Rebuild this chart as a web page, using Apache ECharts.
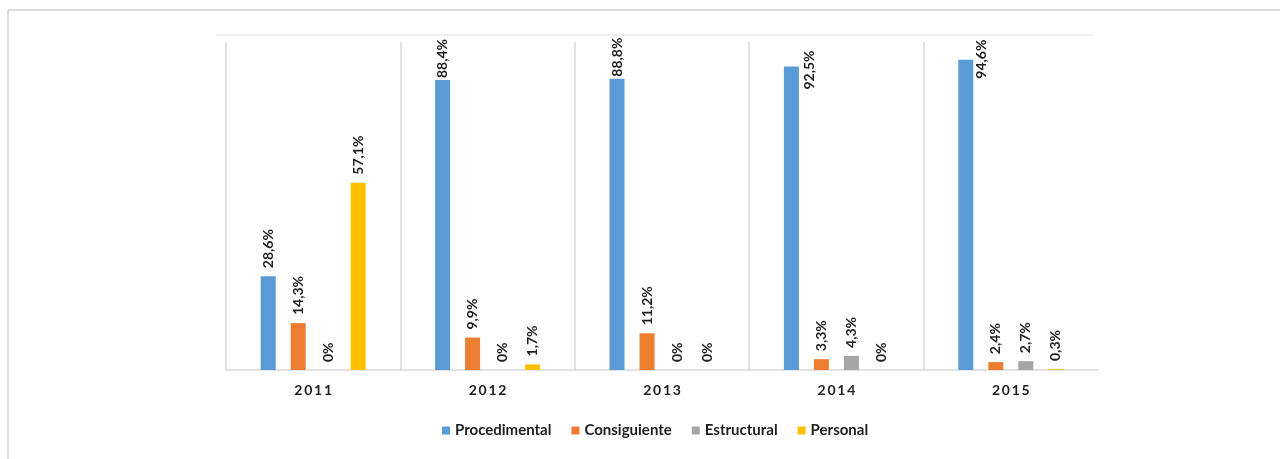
<!DOCTYPE html>
<html>
<head>
<meta charset="utf-8">
<script src="https://cdn.jsdelivr.net/npm/echarts@6/dist/echarts.min.js"></script>
<style>
    html, body {margin: 0; padding: 0; background: #fff;}
    #chart1 {width: 1280px; height: 459px;}
</style>
</head>
<body>
<div id="chart1"></div>
<script>
// data (percent)
var years = ['2011', '2012', '2013', '2014', '2015'];
var seriesNames = ['Procedimental', 'Consiguiente', 'Estructural', 'Personal'];
var procedimental = [28.6, 88.4, 88.8, 92.5, 94.6];
var consiguiente = [14.3, 9.9, 11.2, 3.3, 2.4];
var estructural = [0, 0, 0, 4.3, 2.7];
var personal = [57.1, 1.7, 0, 0, 0.3];
var colors = ['#5B9BD5', '#ED7D31', '#A5A5A5', '#FFC000'];

var FONT = 'Lato, "Open Sans", sans-serif';

function fmt(p) {
    return String(p.value).replace('.', ',') + '%';
}

// labels near the top get pushed down / aside like in the original
var blueLabelFix = {
    1: {distance: 2},
    2: {distance: 2},
    3: {position: [26, 23]},
    4: {position: [23, 19]}
};

function makeSeries(idx, values) {
    var data = values.map(function (v, i) {
        if (idx == 0 && blueLabelFix[i]) {
            return {value: v, label: blueLabelFix[i]};
        }
        return v;
    });
    return {
        name: seriesNames[idx],
        type: 'bar',
        barWidth: 15,
        barGap: '100%',
        itemStyle: {color: colors[idx]},
        label: {
            show: true,
            position: 'top',
            distance: 8,
            rotate: 90,
            align: 'left',
            verticalAlign: 'middle',
            formatter: fmt,
            fontFamily: FONT,
            fontWeight: 'bold',
            fontSize: 14,
            color: '#1e1e1e'
        },
        data: data
    };
}

var myChart = echarts.init(document.getElementById('chart1'));
var option = {
    animation: false,
    color: colors,
    grid: {left: 226, right: 182, top: 42, bottom: 89},
    legend: {
        data: seriesNames,
        left: 437,
        top: 418,
        itemWidth: 8,
        itemHeight: 8,
        itemGap: 20,
        icon: 'rect',
        textStyle: {fontFamily: FONT, fontWeight: 'bold', fontSize: 15, color: '#1e1e1e'}
    },
    xAxis: {
        type: 'category',
        data: years,
        axisLine: {lineStyle: {color: '#d9d9d9', width: 1.5}},
        axisTick: {show: false},
        splitLine: {show: true, showMaxLine: false, lineStyle: {color: '#d9d9d9', width: 1.5}},
        axisLabel: {
            margin: 13,
            fontFamily: FONT,
            fontWeight: 'bold',
            fontSize: 14,
            color: '#1e1e1e',
            formatter: function (v) { return v.split('').join('\u2009'); }
        }
    },
    yAxis: {
        type: 'value',
        min: 0,
        max: 100,
        show: false,
        splitLine: {show: false}
    },
    graphic: [
        {type: 'line', shape: {x1: 8, y1: 10, x2: 1280, y2: 10}, style: {stroke: '#d0d0d0', lineWidth: 1.5}, silent: true},
        {type: 'line', shape: {x1: 8, y1: 10, x2: 8, y2: 459}, style: {stroke: '#d0d0d0', lineWidth: 1.5}, silent: true},
        {type: 'line', shape: {x1: 216, y1: 35, x2: 1093, y2: 35}, style: {stroke: '#e0e0e0', lineWidth: 1}, silent: true}
    ],
    series: [
        makeSeries(0, procedimental),
        makeSeries(1, consiguiente),
        makeSeries(2, estructural),
        makeSeries(3, personal)
    ]
};
myChart.setOption(option);
</script>
</body>
</html>
